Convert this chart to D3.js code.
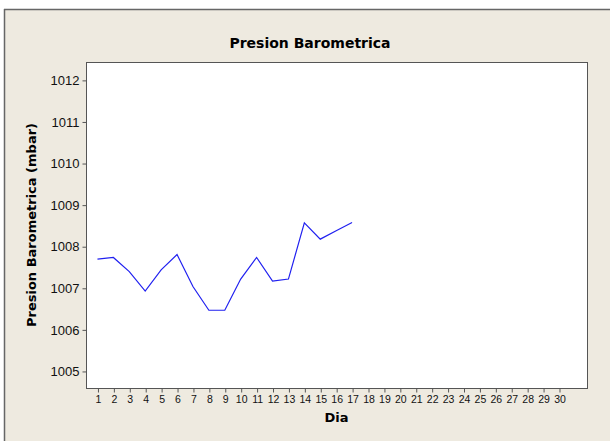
<!DOCTYPE html>
<html><head><meta charset="utf-8">
<script src="https://cdn.jsdelivr.net/npm/d3@7"></script>
<style>body{margin:0;background:#fff}svg{display:block}</style>
</head><body>
<script>
const days = d3.range(1, 18);
const pressure = [1007.69, 1007.73, 1007.39, 1006.92, 1007.43, 1007.80, 1007.03, 1006.46, 1006.46, 1007.21, 1007.73, 1007.16, 1007.21, 1008.56, 1008.17, 1008.37, 1008.57];
const xTicks = d3.range(1, 31);
const yTicks = [1005, 1006, 1007, 1008, 1009, 1010, 1011, 1012];
const title = "Presion Barometrica";
const yLabel = "Presion Barometrica (mbar)";
const xLabel = "Dia";

const W = 610, H = 441;
const svg = d3.select("body").append("svg").attr("width", W).attr("height", H);
svg.append("rect").attr("x", 4).attr("y", 9).attr("width", W - 4).attr("height", H - 9).attr("fill", "#EEEAE0");
svg.append("line").attr("x1", 4.5).attr("x2", 4.5).attr("y1", 9).attr("y2", H).attr("stroke", "#666").attr("stroke-width", 1.5);
svg.append("line").attr("x1", 4).attr("x2", W).attr("y1", 9.5).attr("y2", 9.5).attr("stroke", "#666").attr("stroke-width", 1.5);

const L = 86, R = 587, T = 62, B = 388;
const x = d3.scaleLinear().domain([0.28, 31.76]).range([L, R]);
const y = d3.scaleLinear().domain([1004.59, 1012.43]).range([B, T]);

svg.append("rect").attr("x", L + 0.5).attr("y", T + 0.5).attr("width", R - L).attr("height", B - T)
  .attr("fill", "#fff").attr("stroke", "#555").attr("stroke-width", 1);

const yAxis = svg.append("g").attr("transform", `translate(${L + 0.5},0.5)`)
  .call(d3.axisLeft(y).tickValues(yTicks).tickSize(4).tickPadding(3).tickFormat(d3.format("d")));
yAxis.select(".domain").remove();
yAxis.selectAll("line").attr("stroke", "#555");
yAxis.selectAll("text").attr("font-family", "Liberation Sans, Arial, sans-serif").attr("font-size", 13).attr("fill", "#111");

const xAxis = svg.append("g").attr("transform", `translate(0.5,${B + 0.5})`)
  .call(d3.axisBottom(x).tickValues(xTicks).tickSize(4).tickPadding(3).tickFormat(d3.format("d")));
xAxis.select(".domain").remove();
xAxis.selectAll("line").attr("stroke", "#555");
xAxis.selectAll("text").attr("font-family", "Liberation Sans, Arial, sans-serif").attr("font-size", 10.5).attr("fill", "#111");

const line = d3.line().x((d, i) => x(days[i])).y(d => y(d));
svg.append("path").datum(pressure).attr("d", line).attr("fill", "none").attr("stroke", "#2020F0").attr("stroke-width", 1.2);

const boldFont = "DejaVu Sans, Verdana, sans-serif";
svg.append("text").attr("x", 310).attr("y", 48).attr("text-anchor", "middle")
  .attr("font-family", boldFont).attr("font-weight", "bold").attr("font-size", 14).attr("fill", "#000").text(title);
svg.append("text").attr("transform", `translate(36,${(T + B) / 2}) rotate(-90)`).attr("text-anchor", "middle")
  .attr("font-family", boldFont).attr("font-weight", "bold").attr("font-size", 13).attr("fill", "#000").text(yLabel);
svg.append("text").attr("x", (L + R) / 2).attr("y", 422).attr("text-anchor", "middle")
  .attr("font-family", boldFont).attr("font-weight", "bold").attr("font-size", 13).attr("fill", "#000").text(xLabel);
</script>
</body></html>
